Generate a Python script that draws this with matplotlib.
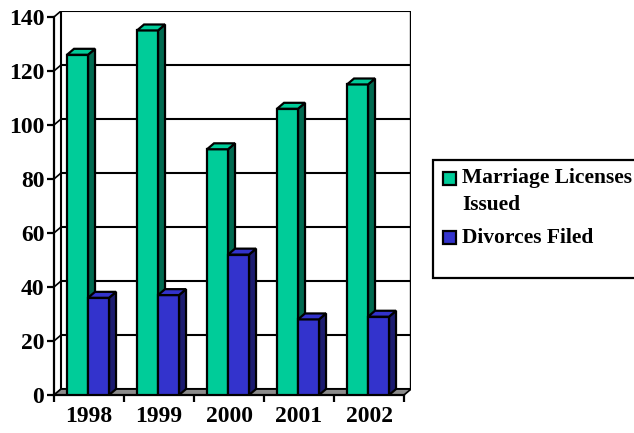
import matplotlib.pyplot as plt
from matplotlib.patches import Polygon, Rectangle

plt.rcParams['font.family'] = 'serif'
plt.rcParams['font.serif'] = ['Liberation Serif', 'DejaVu Serif']
plt.rcParams['font.weight'] = 'bold'

years = ['1998', '1999', '2000', '2001', '2002']
marriages = [126, 135, 91, 106, 115]
divorces = [36, 37, 52, 28, 29]
yticks = [0, 20, 40, 60, 80, 100, 120, 140]

# colours: front, side, top
green = ('#00cc99', '#006a50', '#00cc99')
blue = ('#3333cc', '#1c1c70', '#3333cc')

# depth of the 3d look, in data units
dx, dy = 0.1, 2.2
ymax = 140
n = len(years)

fig = plt.figure(figsize=(6.34, 4.33), dpi=100)
ax = fig.add_axes([54 / 634, 38 / 433, 357 / 634, 384 / 433])
ax.set_xlim(0, n + dx)
ax.set_ylim(0, ymax + dy)
for s in ['top', 'right']:
    ax.spines[s].set_visible(False)
ax.spines['left'].set_bounds(0, ymax)
ax.spines['bottom'].set_bounds(0, n)
ax.spines['left'].set_linewidth(1.6)
ax.spines['bottom'].set_linewidth(1.6)

# back wall grid and frame
for v in yticks:
    ax.plot([dx, n + dx], [v + dy, v + dy], color='black', lw=1.5, zorder=1)
    ax.plot([0, dx], [v, v + dy], color='black', lw=1.2, zorder=1)
ax.plot([dx, dx], [dy, ymax + dy], color='black', lw=1.5, zorder=1)
ax.plot([n + dx, n + dx], [dy, ymax + dy], color='black', lw=1.7, zorder=1)

# floor
ax.add_patch(Polygon([(0, 0), (n, 0), (n + dx, dy), (dx, dy)], closed=True,
                     facecolor='#8c8c8c', edgecolor='black', lw=1.2, zorder=2))


def bar3d(x0, w, h, cols):
    front = Rectangle((x0, 0), w, h, facecolor=cols[0], edgecolor='black', lw=1.6, zorder=3)
    side = Polygon([(x0 + w, 0), (x0 + w + dx, dy), (x0 + w + dx, h + dy), (x0 + w, h)],
                   closed=True, facecolor=cols[1], edgecolor='black', lw=1.6, zorder=3)
    top = Polygon([(x0, h), (x0 + w, h), (x0 + w + dx, h + dy), (x0 + dx, h + dy)],
                  closed=True, facecolor=cols[2], edgecolor='black', lw=1.6, zorder=3)
    for p in (side, front, top):
        ax.add_patch(p)


bw = 0.3
for i in range(n):
    bar3d(i + 0.186, bw, marriages[i], green)
    bar3d(i + 0.186 + bw, bw, divorces[i], blue)

ax.set_yticks(yticks)
ax.set_yticklabels([str(v) for v in yticks], fontsize=17, fontweight='bold')
ax.set_xticks(range(n + 1))
ax.set_xticklabels([])
ax.set_xticks([i + 0.5 for i in range(n)], minor=True)
ax.set_xticklabels(years, minor=True, fontsize=17, fontweight='bold')
ax.tick_params(axis='x', which='minor', length=0, pad=8)
ax.tick_params(axis='both', which='major', length=5, width=1.6, direction='out')
ax.tick_params(axis='y', pad=2)

# legend box drawn by hand
W, H = 634, 433
fig.patches.append(Rectangle((433 / W, 1 - 278 / H), 0.4, 118 / H, transform=fig.transFigure,
                             facecolor='white', edgecolor='black', lw=1.6))
handles = [(green[0], 178.5), (blue[0], 237)]
for (c, yc) in handles:
    fig.patches.append(Rectangle((443 / W, 1 - (yc + 6.5) / H), 13 / W, 13 / H,
                                 transform=fig.transFigure, facecolor=c,
                                 edgecolor='black', lw=1.6))
fig.text(462 / W, 1 - 178.5 / H, 'Marriage Licenses', fontsize=15.5, fontweight='bold', va='center')
fig.text(462 / W, 1 - 205 / H, 'Issued', fontsize=15.5, fontweight='bold', va='center')
fig.text(462 / W, 1 - 238 / H, 'Divorces Filed', fontsize=15.5, fontweight='bold', va='center')

fig.savefig('out.png', dpi=100)
